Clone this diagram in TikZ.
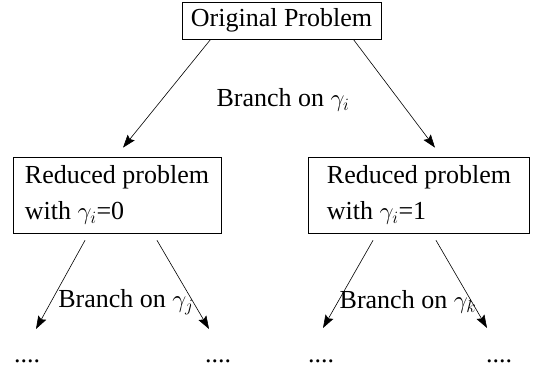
\documentclass[tikz,border=0pt]{standalone}
\usepackage{fontspec}
\setmainfont{Liberation Serif}
\usetikzlibrary{arrows.meta}

\tikzset{
	probbox/.style={draw, line width=0.7pt, inner sep=0pt, align=left, font=\fontsize{26}{36}\selectfont},
	branch/.style={line width=0.6pt, -{Stealth[length=13pt, width=9pt, inset=2pt]}},
	branchlabel/.style={inner sep=0pt, font=\fontsize{26}{30}\selectfont},
	dotlabel/.style={inner sep=0pt, font=\fontsize{26}{30}\selectfont}
}

\begin{document}
\begin{tikzpicture}[x=1pt, y=-1pt]
		%%%%% START %%%%%
		
		\useasboundingbox (0, 0) rectangle (549, 374);
		
		\node[probbox, minimum width=199pt, minimum height=37pt] (orig) at (281.5, 20.5) {Original Problem};
		\node[branchlabel] (labi) at (283, 100) {Branch on $\gamma_i$};
		
		\node[probbox, minimum width=208pt, minimum height=76pt] (redzero) at (117, 195) {Reduced problem\\with $\gamma_i$=0};
		\node[probbox, minimum width=221pt, minimum height=76pt] (redone) at (419, 195) {Reduced problem\\with $\gamma_i$=1};
		
		\draw[branch] ([xshift=29pt]orig.south west) -- ([xshift=6pt, yshift=9pt]redzero.north);
		\draw[branch] ([xshift=-28pt]orig.south east) -- ([xshift=16pt, yshift=9pt]redone.north);
		
		\coordinate (zl) at (36, 329);
		\coordinate (zr) at (209, 329);
		\coordinate (ol) at (323, 328);
		\coordinate (or) at (487, 328);
		
		\draw[branch] ([xshift=-32pt, yshift=-7pt]redzero.south) -- (zl);
		\draw[branch] ([xshift=40pt, yshift=-7pt]redzero.south) -- (zr);
		\draw[branch] ([xshift=-46pt, yshift=-7pt]redone.south) -- (ol);
		\draw[branch] ([xshift=17pt, yshift=-7pt]redone.south) -- (or);
		
		\node[branchlabel] (labj) at (126, 302) {Branch on $\gamma_j$};
		\node[branchlabel] (labk) at (408, 302) {Branch on $\gamma_k$};
		
		\node[dotlabel] (dzl) at (27, 361) {....};
		\node[dotlabel] (dzr) at (218, 361) {....};
		\node[dotlabel] (dol) at (321, 361) {....};
		\node[dotlabel] (dor) at (499, 361) {....};
		
		%%%%% END %%%%%
	\end{tikzpicture}
\end{document}
